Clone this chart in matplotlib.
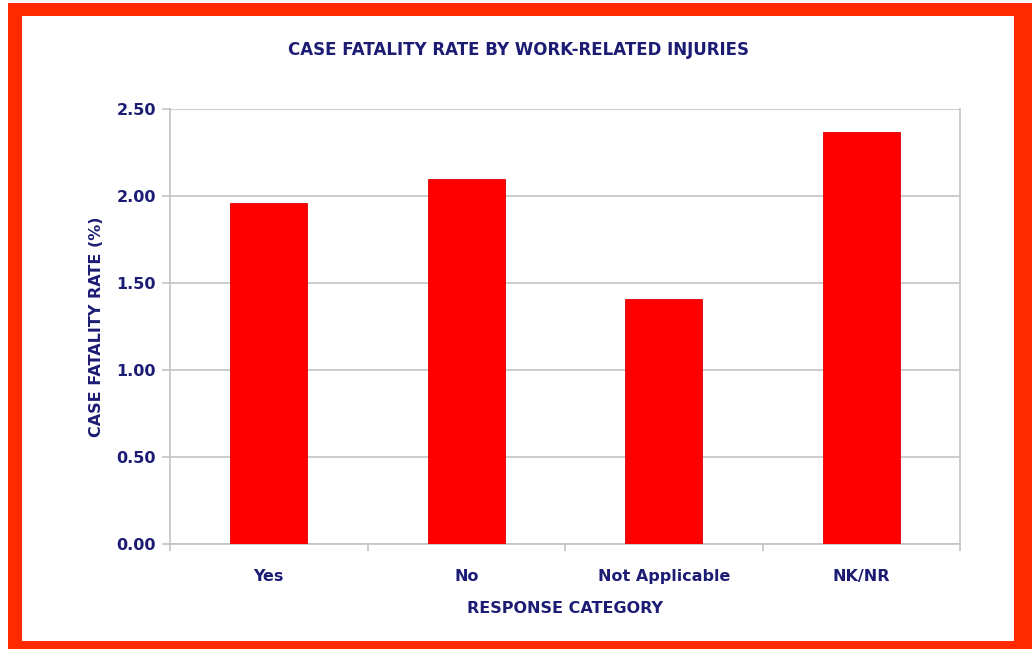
import matplotlib.pyplot as plt
from matplotlib.patches import Rectangle

# data
categories = ['Yes', 'No', 'Not Applicable', 'NK/NR']
rates = [1.96, 2.10, 1.41, 2.37]
yticks = [0.0, 0.5, 1.0, 1.5, 2.0, 2.5]

navy = '#1c1c74'
red = '#ff0000'
frame = '#ff2a00'
grid = '#c4c4c4'

W, H = 1032, 649
fig = plt.figure(figsize=(W / 100, H / 100), dpi=100)

# red frame round the whole picture: a red block with a white panel on top
fig.patches.append(Rectangle((8 / W, 0), 1 - 8 / W, 1 - 3 / H, transform=fig.transFigure,
                             facecolor=frame, edgecolor='none', zorder=-5))
fig.patches.append(Rectangle((22 / W, 1 - 641 / H), (1014 - 22) / W, (641 - 16) / H,
                             transform=fig.transFigure, facecolor='white', edgecolor='none', zorder=-4))

ax = fig.add_axes([170 / W, 1 - 544 / H, 790 / W, 435 / H])
ax.patch.set_alpha(0)

x = range(len(categories))
ax.bar(x, rates, width=0.39, color=red, edgecolor='#e00000', linewidth=0.6, zorder=3)

ax.set_xlim(-0.5, len(categories) - 0.5)
ax.set_ylim(0, 2.5)
ax.set_yticks(yticks)
ax.set_yticklabels([f'{v:.2f}' for v in yticks])
ax.set_xticks(list(x))
ax.set_xticklabels(categories)
ax.set_xticks([i - 0.5 for i in range(len(categories) + 1)], minor=True)

ax.grid(axis='y', color=grid, linewidth=1.2, zorder=0)
ax.spines['top'].set_visible(False)
for s in ['left', 'bottom', 'right']:
    ax.spines[s].set_color(grid)
    ax.spines[s].set_linewidth(1.2)

ax.tick_params(axis='y', length=6, color=grid, width=1.2, labelsize=11.5, labelcolor=navy, pad=4)
ax.tick_params(axis='x', which='major', length=0, labelsize=11.5, labelcolor=navy, pad=18)
ax.tick_params(axis='x', which='minor', length=5, color=grid, width=1.2)
for lab in ax.get_xticklabels() + ax.get_yticklabels():
    lab.set_fontweight('bold')

ax.set_xlabel('RESPONSE CATEGORY', fontsize=11.5, fontweight='bold', color=navy, labelpad=12)
ax.set_ylabel('CASE FATALITY RATE (%)', fontsize=11.5, fontweight='bold', color=navy, labelpad=9)
fig.text(518 / W, 1 - 50 / H, 'CASE FATALITY RATE BY WORK-RELATED INJURIES',
         ha='center', va='center', fontsize=12, fontweight='bold', color=navy)

fig.savefig('out.png', dpi=100)
